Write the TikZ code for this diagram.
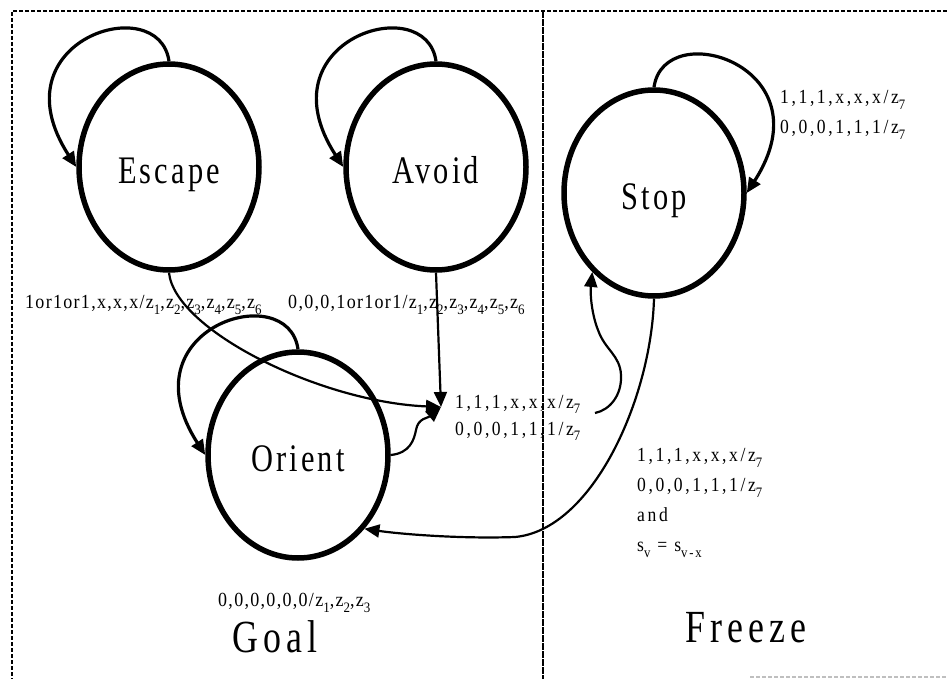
\documentclass[tikz,border=0pt]{standalone}
\usepackage{fontspec}
\setmainfont{Liberation Serif}
\newfontfamily\statefont[FakeStretch=0.78,LetterSpace=8]{Liberation Serif}
\newfontfamily\bigfont[FakeStretch=0.78,LetterSpace=11]{Liberation Serif}
\newfontfamily\tightfont[FakeStretch=0.9,LetterSpace=6.5]{Liberation Serif}
\newfontfamily\widefont[FakeStretch=0.88,LetterSpace=13]{Liberation Serif}
\newcommand\lsub[1]{\raisebox{-0.28em}{\scalebox{0.72}{#1}}}
\usetikzlibrary{arrows.meta,shapes.geometric}
\begin{document}
\begin{tikzpicture}[x=1pt,y=1pt,
  state/.style={draw,ellipse,line width=5.5pt,minimum width=180pt,minimum height=206pt,inner sep=0pt,
    text height=32pt,text depth=0pt,
    font=\statefont\fontsize{39}{39}\selectfont},
  tlab/.style={inner sep=0pt,anchor=west,font=\tightfont\fontsize{20}{22}\selectfont},
  wlab/.style={inner sep=0pt,anchor=west,align=left,font=\widefont\fontsize{20}{#1}\selectfont},
  wlab/.default=28,
  region/.style={inner sep=0pt,font=\bigfont\fontsize{46}{46}\selectfont},
  arrowtip/.style={-{Triangle[length=15pt,width=13pt]}},
  selfloop/.style={arrowtip,line width=3.2pt},
  trans/.style={arrowtip,line width=2.2pt},
  border/.style={line width=1.1pt,dash pattern=on 4pt off 2pt},
  divider/.style={line width=1.2pt,dash pattern=on 7pt off 1pt},
]
\useasboundingbox (0,0) rectangle (947,-679);
\fill[white] (0,0) rectangle (947,-679);
% frame and divider
\draw[border] (947,-11) -- (12,-11) -- (12,-679);
\draw[divider] (543,-11) -- (543,-679);
\draw[border,gray!50] (750,-677) -- (947,-677);

% states
\node[state] (esc) at (169,-167) {Escape};
\node[state] (avo) at (436,-167) {Avoid};
\node[state] (stp) at (654,-193) {Stop};
\node[state] (ori) at (298,-455) {Orient};

% self loops
\draw[selfloop] (esc.north) .. controls +(-10,72) and +(-82,127) .. (esc.west);
\draw[selfloop] (avo.north) .. controls +(-10,72) and +(-82,127) .. (avo.west);
\draw[selfloop] (ori.north) .. controls +(-10,72) and +(-82,127) .. (ori.west);
\draw[selfloop] (stp.north) .. controls +(10,72) and +(82,127) .. (stp.east);

% converging transitions
\coordinate (c) at (441,-407);
\draw[trans] (esc.south) .. controls (175,-330) and (320,-402) .. (c);
\draw[trans] (avo.south) -- (c);
\draw[trans] (ori.east) .. controls (410,-453) and (414,-440) .. (416,-430)
   .. controls (418,-418) and (428,-418) .. (c);

% to Stop
\coordinate (s0) at (595,-413);
\draw[trans] (s0) .. controls (610,-410) and (622,-395) .. (621,-375)
   .. controls (620,-355) and (605,-350) .. (598,-330)
   .. controls (592,-315) and (590,-295) .. (stp.232);

% Stop back to Orient
\draw[trans] (stp.south) .. controls (651,-400) and (592,-530) .. (515,-537)
   .. controls (460,-539) and (400,-534) .. (ori.-48);

% labels
\node[tlab] (l1) at (25,-305) {1or1or1,x,x,x/z\lsub{1},z\lsub{2},z\lsub{3},z\lsub{4},z\lsub{5},z\lsub{6}};
\node[tlab] (l2) at (288,-305) {0,0,0,1or1or1/z\lsub{1},z\lsub{2},z\lsub{3},z\lsub{4},z\lsub{5},z\lsub{6}};
\node[wlab=27] (l3) at (455,-418) {1,1,1,x,x,x/z\lsub{7}\\0,0,0,1,1,1/z\lsub{7}};
\node[wlab=30] (l4) at (780,-115) {1,1,1,x,x,x/z\lsub{7}\\0,0,0,1,1,1/z\lsub{7}};
\node[wlab=30] (l5) at (637,-503) {1,1,1,x,x,x/z\lsub{7}\\0,0,0,1,1,1/z\lsub{7}\\and\\s\lsub{v} = s\lsub{v-x}};
\node[tlab] (l6) at (218,-603) {0,0,0,0,0,0/z\lsub{1},z\lsub{2},z\lsub{3}};

% regions
\node[region] (goal) at (275,-637) {Goal};
\node[region] (freeze) at (746,-628) {Freeze};
\end{tikzpicture}
\end{document}
